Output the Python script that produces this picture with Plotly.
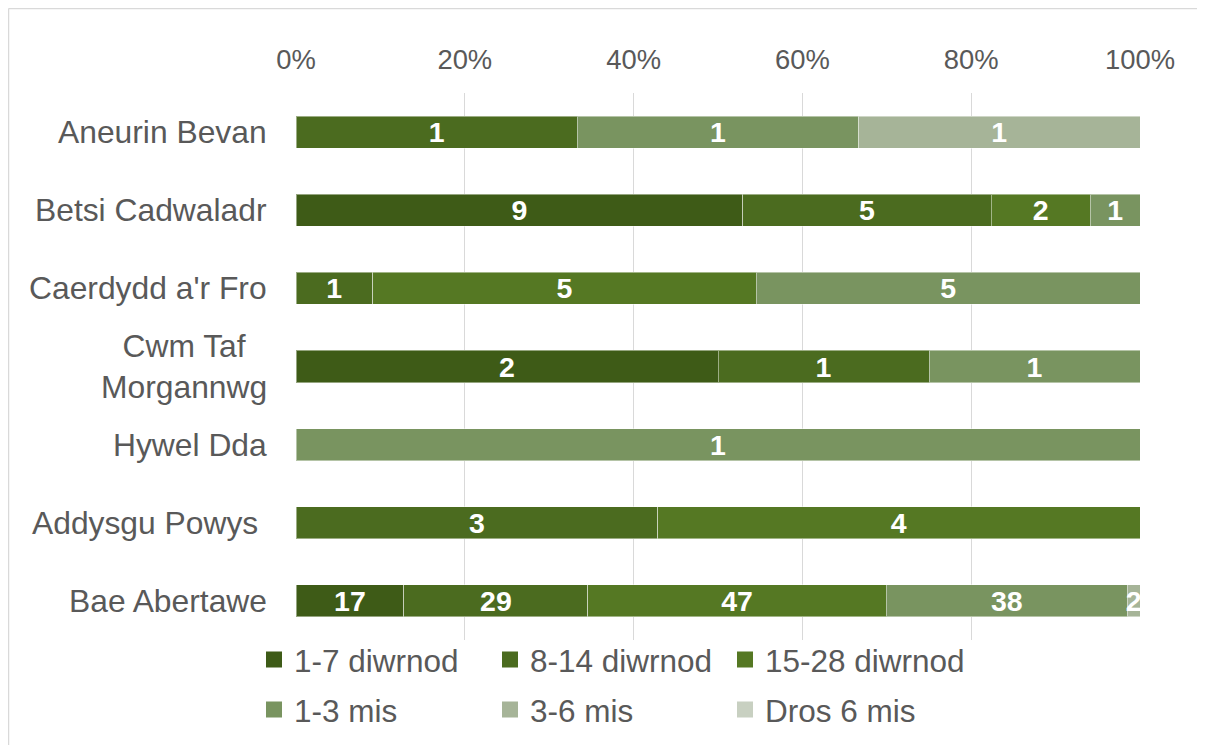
import plotly.graph_objects as go

categories = ["Aneurin Bevan", "Betsi Cadwaladr", "Caerdydd a'r Fro",
              "Cwm Taf<br>Morgannwg", "Hywel Dda", "Addysgu Powys\u00a0", "Bae Abertawe"]
series_names = ["1-7 diwrnod", "8-14 diwrnod", "15-28 diwrnod",
                "1-3 mis", "3-6 mis", "Dros 6 mis"]
d1_7 = [None, 9, None, 2, None, None, 17]
d8_14 = [1, 5, 1, 1, None, 3, 29]
d15_28 = [None, 2, 5, None, None, 4, 47]
m1_3 = [1, 1, 5, 1, 1, None, 38]
m3_6 = [1, None, None, None, None, None, 2]
m6plus = [None, None, None, None, None, None, None]
series_values = [d1_7, d8_14, d15_28, m1_3, m3_6, m6plus]
colors = ["#3e5b17", "#4b6b1f", "#557823", "#799460", "#a6b498", "#c8d0c1"]
tick_vals = [0, 20, 40, 60, 80, 100]
tick_text = ["0%", "20%", "40%", "60%", "80%", "100%"]

FONT = "Liberation Sans, Arial, sans-serif"
GREY = "#595959"

W, H = 1205, 745
L, R, T, B = 288, 73, 85, 113
PW, PH = W - L - R, H - T - B

def px_to_paper_x(px):
    return (px - L) / PW

def px_to_paper_y(py):
    return (H - B - py) / PH

fig = go.Figure()
for name, vals, col in zip(series_names, series_values, colors):
    fig.add_trace(go.Bar(
        y=categories, x=vals, name=name, orientation="h",
        marker=dict(color=col, line=dict(color="rgba(255,255,255,0.45)", width=1)),
        text=vals, texttemplate="%{text}", textposition="inside",
        insidetextanchor="middle", constraintext="none", textangle=0,
        textfont=dict(family=FONT, size=28.5, color="white", weight="bold"),
        showlegend=False, hoverinfo="skip",
    ))

# legend entries (square swatches), laid out in three columns of two rows
legend_ids = ["legend", "legend2", "legend3"]
for i, (name, col) in enumerate(zip(series_names, colors)):
    fig.add_trace(go.Scatter(
        x=[None], y=[None], mode="markers", name=name,
        marker=dict(symbol="square", size=16, color=col),
        legend=legend_ids[i % 3], legendgroup=f"g{i}", showlegend=True,
    ))

for cat in categories:
    fig.add_annotation(
        x=0, xref="paper", y=cat, yref="y", text=cat, showarrow=False,
        xanchor="right", xshift=-27, align="center",
        font=dict(family=FONT, size=31.8, color=GREY),
    )

# chart border (top and left visible)
fig.add_shape(type="line", xref="paper", yref="paper",
              x0=px_to_paper_x(0.5), x1=px_to_paper_x(1210),
              y0=px_to_paper_y(0.5), y1=px_to_paper_y(0.5),
              line=dict(color="#d9d9d9", width=1.5))
fig.add_shape(type="line", xref="paper", yref="paper",
              x0=px_to_paper_x(0.5), x1=px_to_paper_x(0.5),
              y0=px_to_paper_y(0.5), y1=px_to_paper_y(760),
              line=dict(color="#d9d9d9", width=1.5))

leg_common = dict(
    orientation="v", xref="paper", yref="paper",
    xanchor="left", yanchor="top", traceorder="grouped", tracegroupgap=6,
    font=dict(family=FONT, size=31.5, color=GREY),
    bgcolor="rgba(0,0,0,0)", borderwidth=0,
)
leg_top = px_to_paper_y(624.5)
col_x = [246, 482, 717]

fig.update_layout(
    width=W, height=H,
    margin=dict(l=L, r=R, t=T, b=B, autoexpand=False),
    paper_bgcolor="white", plot_bgcolor="white",
    barmode="stack", barnorm="percent", bargap=0.59,
    font=dict(family=FONT, color=GREY),
    xaxis=dict(
        side="top", range=[0, 100], tickmode="array",
        tickvals=tick_vals, ticktext=tick_text,
        showgrid=True, gridcolor="#d9d9d9", gridwidth=1.3,
        zeroline=False, showline=False, ticks="",
        ticklabelstandoff=18,
        tickfont=dict(family=FONT, size=27.4, color=GREY),
        fixedrange=True,
    ),
    yaxis=dict(
        autorange="reversed", showticklabels=False, ticks="",
        showgrid=False, zeroline=False, showline=False,
    ),
    legend=dict(x=px_to_paper_x(col_x[0]), y=leg_top, **leg_common),
    legend2=dict(x=px_to_paper_x(col_x[1]), y=leg_top, **leg_common),
    legend3=dict(x=px_to_paper_x(col_x[2]), y=leg_top, **leg_common),
    showlegend=True,
)

fig.write_html("out.html")
